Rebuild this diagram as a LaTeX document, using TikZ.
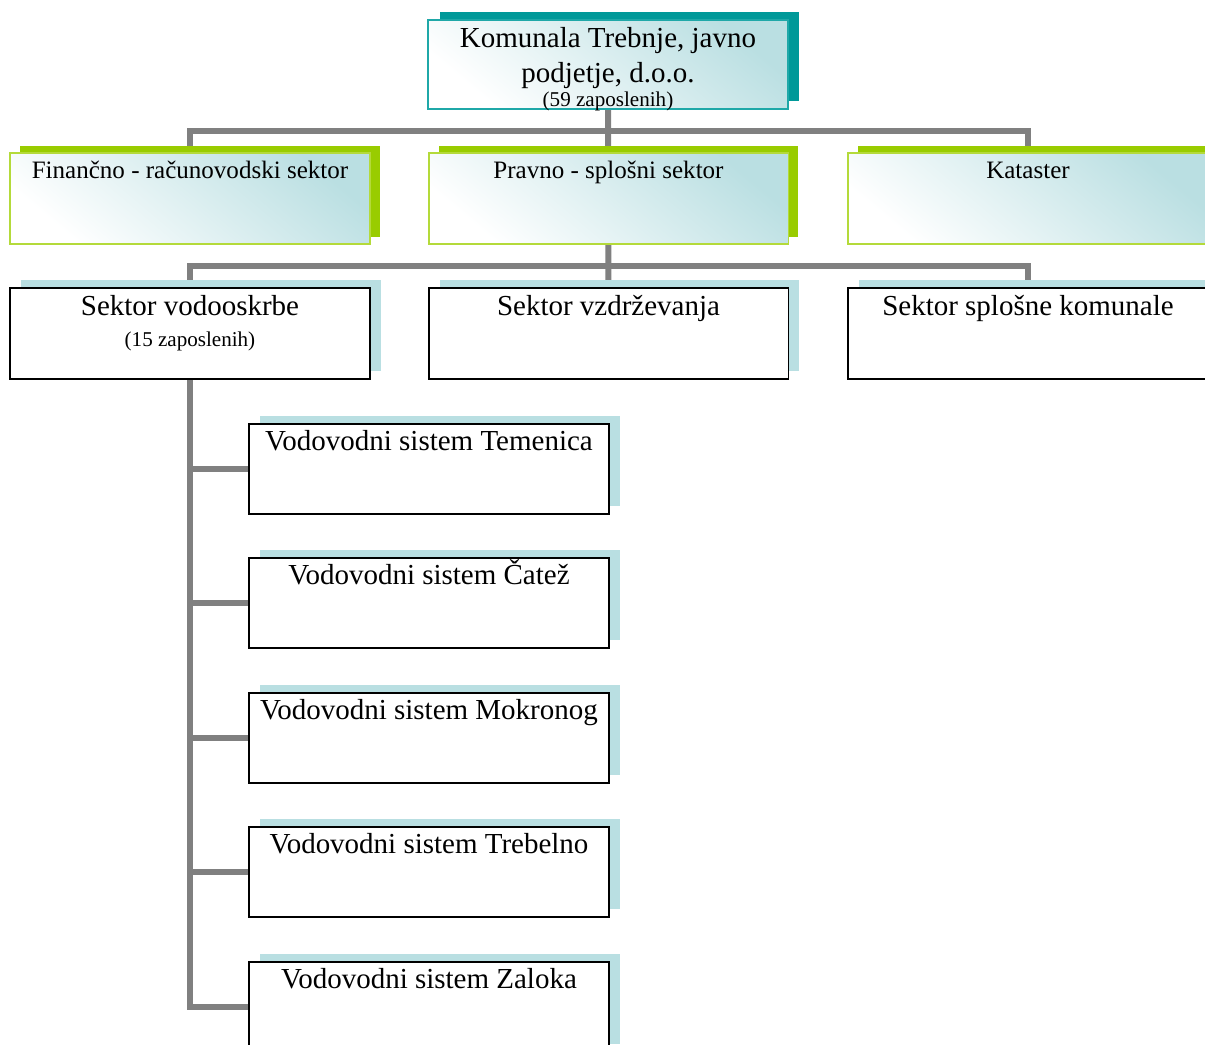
\documentclass[tikz,border=0pt]{standalone}
\usepackage{fontspec}
\setmainfont{Liberation Serif}
\usetikzlibrary{positioning,shadows,backgrounds}
\definecolor{headteal}{HTML}{009999}
\definecolor{headline}{HTML}{1FA8A8}
\definecolor{sectgreen}{HTML}{99CC00}
\definecolor{sectline}{HTML}{B4DA3A}
\definecolor{unitshadow}{HTML}{B9DFE2}
\definecolor{fadeteal}{HTML}{BADFE2}
\definecolor{linkgray}{HTML}{808080}

\newcommand{\bigtxt}{\fontsize{16.5}{19.8}\selectfont}
\newcommand{\midtxt}{\fontsize{14.25}{17}\selectfont}
\newcommand{\smalltxt}{\fontsize{12}{14}\selectfont}

\begin{document}
\begin{tikzpicture}[
        x=0.02cm, y=-0.02cm,
        box/.style={rectangle, inner sep=0pt, minimum width=7.2cm,
                text width=7.2cm, align=flush center, line width=1.1pt},
        faded/.style={top color=fadeteal, bottom color=white, shading angle=-40},
        headbox/.style={box, faded, draw=headline, font=\bigtxt,
                text height=0.56cm, text depth=1.22cm,
                general shadow={fill=headteal, shadow xshift=0.23cm, shadow yshift=0.15cm}},
        sectbox/.style={box, faded, draw=sectline, font=\midtxt,
                text height=0.52cm, text depth=1.30cm,
                general shadow={fill=sectgreen, shadow xshift=0.2cm, shadow yshift=0.13cm}},
        unitbox/.style={box, fill=white, draw=black, font=\bigtxt,
                text height=0.56cm, text depth=1.26cm,
                general shadow={fill=unitshadow, shadow xshift=0.22cm, shadow yshift=0.15cm}},
        subbox/.style={unitbox, text height=0.54cm, text depth=1.26cm},
        link/.style={draw=linkgray, line width=0.12cm}
    ]
    \useasboundingbox (0,0) rectangle (1205,1045);
    \clip (0,0) rectangle (1205,1045);

    % vrh
    \node[headbox, anchor=north] (top) at (608,19)
    {Komunala Trebnje, javno\\podjetje, d.o.o.\\[-6.2pt]{\smalltxt (59 zaposlenih)}};

    % sektorji - uprava
    \node[sectbox, anchor=north] (fin) at (190,152) {Finančno - računovodski sektor};
    \node[sectbox, anchor=north] (prav) at (608.5,152) {Pravno - splošni sektor};
    \node[sectbox, anchor=north] (kat) at (1028,152) {Kataster};

    % sektorji - izvajanje
    \node[unitbox, anchor=north] (vodo) at (190,287)
    {Sektor vodooskrbe\\[-2.2pt]{\smalltxt (15 zaposlenih)}};
    \node[unitbox, anchor=north] (vzdr) at (608.5,287) {Sektor vzdrževanja};
    \node[unitbox, anchor=north] (splo) at (1028,287) {Sektor splošne komunale};

    % vodovodni sistemi
    \foreach \nm/\yy/\txt in {temen/423/Temenica, catez/557/Čatež, mokr/692/Mokronog,
            trebel/826/Trebelno, zalo/961/Zaloka}
    \node[subbox, anchor=north] (\nm) at (429,\yy) {Vodovodni sistem \txt};

    % povezave
    \begin{pgfonlayer}{background}
        \draw[link] (top.south) -- (vzdr.north);
        \draw[link] (fin.north) -- (fin.north |- 0,131) -- (kat.north |- 0,131) -- (kat.north);
        \draw[link] (vodo.north) -- (vodo.north |- 0,266) -- (splo.north |- 0,266) -- (splo.north);
        \draw[link] (vodo.south) |- (zalo.west);
        \foreach \nm in {temen,catez,mokr,trebel}
        \draw[link] (vodo.south |- \nm.west) -- (\nm.west);
    \end{pgfonlayer}
\end{tikzpicture}
\end{document}
